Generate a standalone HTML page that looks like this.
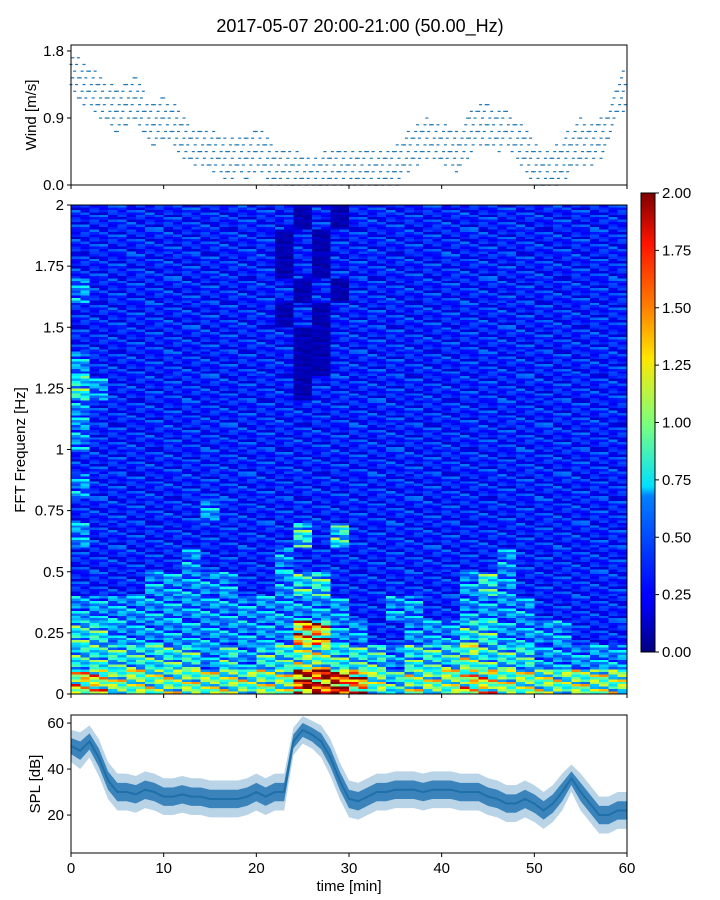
<!DOCTYPE html>
<html><head><meta charset="utf-8"><style>
body{margin:0;background:#fff;}
svg{display:block;font-family:"Liberation Sans","DejaVu Sans",sans-serif;}
</style></head><body>
<svg id="c" width="720" height="900" xmlns="http://www.w3.org/2000/svg">
<rect width="720" height="900" fill="#fff"/>
<text x="360" y="32" font-size="18" text-anchor="middle">2017-05-07 20:00-21:00 (50.00_Hz)</text>
<defs>
<linearGradient id="jet" x1="0" y1="1" x2="0" y2="0">
<stop offset="0" stop-color="#00007f"/><stop offset="0.11" stop-color="#0000ff"/>
<stop offset="0.125" stop-color="#0000ff"/><stop offset="0.34" stop-color="#0080ff"/>
<stop offset="0.36" stop-color="#00e0ff"/><stop offset="0.5" stop-color="#7dff7a"/>
<stop offset="0.64" stop-color="#ffe600"/><stop offset="0.75" stop-color="#ff8000"/>
<stop offset="0.89" stop-color="#ff1300"/><stop offset="1" stop-color="#7f0000"/>
</linearGradient>
</defs>
<g id="wind"></g>
<g id="spec"></g>
<g id="cbar"></g>
<g id="spl"></g>
</svg>
<script>
const windMean=[1.5,1.4,1.3,1.2,1.1,1.0,1.1,1.2,0.9,0.8,0.9,0.8,0.7,0.5,0.5,0.5,0.4,0.35,0.4,0.35,0.5,0.4,0.2,0.15,0.2,0.15,0.1,0.15,0.2,0.15,0.2,0.15,0.2,0.15,0.15,0.2,0.4,0.5,0.6,0.6,0.55,0.5,0.4,0.7,0.8,0.8,0.7,0.8,0.6,0.5,0.3,0.2,0.2,0.3,0.5,0.6,0.5,0.6,0.8,1.2,1.3];
const windSpread=0.3;
const splMean=[50,48,52,45,35,30,30,29,31,30,28,28,29,28,28,27,27,27,27,28,30,28,30,30,52,57,55,52,45,35,27,26,28,30,30,31,31,31,30,31,31,31,30,30,30,28,27,25,25,27,25,22,25,30,36,30,25,20,20,22,22];
const splSpread=[7,8,7,8,8,8,8,8,8,8,8,8,8,8,8,8,8,8,8,8,8,8,8,8,6,6,6,7,8,8,8,8,8,8,8,8,8,8,8,8,8,8,8,8,8,8,8,8,8,8,8,8,8,8,6,8,8,8,8,8,8];
const specRows=[
"111111111111010111111111111111",
"111111111110101111111111111111",
"111111111110101111111111111111",
"211111111111010111111111111111",
"111111111110101111111111111111",
"111111111111001111111111111111",
"211111111111001111111111111111",
"321111111111011111111111111111",
"211111111111111111111111111111",
"211111111111111111111111111111",
"111111111111111111111111111111",
"211111111111111111111111111111",
"111111121111111111111111111111",
"211111111111313111111111111111",
"111111211112111111111112111111",
"111122222112331111111232111111",
"222222222222222112211222211111",
"332222222222662211222332222111",
"333333323233443332333433322222",
"554444444444888643444554444444"];
const tex=[1.0,0.6,1.4,0.8,1.2,0.5,1.5,0.9,1.1,0.7,1.6,0.95,0.75,1.25,0.65,1.05,1.3];
const xTicks=[0,10,20,30,40,50,60];
const windTicks=[0.0,0.9,1.8];
const freqTicks=[0,0.25,0.5,0.75,1,1.25,1.5,1.75,2];
const freqLabels=["0","0.25","0.5","0.75","1","1.25","1.5","1.75","2"];
const cbTicks=[0,0.25,0.5,0.75,1,1.25,1.5,1.75,2];
const splTicks=[20,40,60];

const NS="http://www.w3.org/2000/svg";
function el(p,t,a){const e=document.createElementNS(NS,t);for(const k in a)e.setAttribute(k,a[k]);p.appendChild(e);return e;}
const X0=71,X1=627;
const xs=t=>X0+(X1-X0)*t/60;
function jet(v){v=Math.max(0,Math.min(1,v));
 const r=Math.max(0,Math.min(1,1.5-Math.abs(4*v-3))),g=Math.max(0,Math.min(1,1.5-Math.abs(4*v-2))),b=Math.max(0,Math.min(1,1.5-Math.abs(4*v-1)));
 return `rgb(${r*255|0},${g*255|0},${b*255|0})`;}
function xAxis(g,y0,labels){xTicks.forEach(t=>{const l=el(g,'line',{x1:xs(t),x2:xs(t),y1:y0,y2:y0+4,stroke:'#000'});
 
 if(labels){const tx=el(g,'text',{x:xs(t),y:y0+20,'font-size':15,'text-anchor':'middle'});tx.textContent=t;
 }});}

// wind
(function(){const g=document.getElementById('wind');const T=45,B=185,ymax=1.88;const ys=v=>B-(B-T)*v/ymax;
 const step=0.09;
 for(let m=0;m<60;m++){const a=windMean[m],b=windMean[m+1];
  for(let k=0;k<5;k++){const t=m+k/5;const mv=a+(b-a)*k/5;
   for(let q=Math.ceil((mv-windSpread)/step);q*step<=mv+windSpread;q++){if(q<0)continue;if((q*2+k+m)%3!=0)continue;
    const c=el(g,'rect',{x:xs(t)-1.5,y:ys(q*step)-0.5,width:3,height:1.2,fill:'#1f77b4'});
    }}}
 const f=el(g,'rect',{x:X0,y:T,width:X1-X0,height:B-T,fill:'none',stroke:'#000'});
 windTicks.forEach(v=>{el(g,'line',{x1:X0-4,x2:X0,y1:ys(v),y2:ys(v),stroke:'#000'});const t=el(g,'text',{x:X0-7,y:ys(v)+5,'font-size':15,'text-anchor':'end'});t.textContent=v.toFixed(1);
  });
 xAxis(g,B,false);
 const yl=el(g,'text',{x:36,y:115,'font-size':15,'text-anchor':'middle',transform:'rotate(-90 36 115)'});yl.textContent='Wind [m/s]';
 })();

// spectrogram
(function(){const g=document.getElementById('spec');const T=205,B=694;const ys=f=>B-(B-T)*f/2;
 const nr=specRows.length,nc=specRows[0].length;const sub=10;
 for(let r=0;r<nr;r++){const fTop=2-r*0.1;
  for(let c=0;c<nc;c++){const v=0.1+parseInt(specRows[r][c])*0.205;
   for(let h=0;h<2;h++){
   for(let s=0;s<sub;s++){const m=tex[(s*5+c*3+r*7+h*4)%tex.length];const f1=fTop-s*0.1/sub,f2=fTop-(s+1)*0.1/sub;
    const rc=el(g,'rect',{x:xs(c*2+h),y:ys(f1),width:xs(c*2+h+1)-xs(c*2+h)+0.5,height:ys(f2)-ys(f1)+0.5,fill:jet(v*m/2),'shape-rendering':'crispEdges'});
    }}}}
 el(g,'rect',{x:X0,y:T,width:X1-X0,height:B-T,fill:'none',stroke:'#000'});
 freqTicks.forEach((v,i)=>{el(g,'line',{x1:X0-4,x2:X0,y1:ys(v),y2:ys(v),stroke:'#000'});const t=el(g,'text',{x:X0-7,y:ys(v)+5,'font-size':15,'text-anchor':'end'});t.textContent=freqLabels[i];
  });
 xAxis(g,B,false);
 const yl=el(g,'text',{x:25,y:450,'font-size':15,'text-anchor':'middle',transform:'rotate(-90 25 450)'});yl.textContent='FFT Frequenz [Hz]';
 })();

// colorbar
(function(){const g=document.getElementById('cbar');const T=193,B=652,L=641,R=655;
 el(g,'rect',{x:L,y:T,width:R-L,height:B-T,fill:'url(#jet)',stroke:'#000'});
 cbTicks.forEach(v=>{const y=B-(B-T)*v/2;el(g,'line',{x1:R,x2:R+4,y1:y,y2:y,stroke:'#000'});const t=el(g,'text',{x:R+7,y:y+5,'font-size':15});t.textContent=v.toFixed(2);
  });})();

// SPL
(function(){const g=document.getElementById('spl');const T=715,B=853,ymin=3.5,ymax=63.5;const ys=v=>B-(B-T)*(v-ymin)/(ymax-ymin);
 let up='',lo='';for(let m=0;m<=60;m++){up+=(m?'L':'M')+xs(m)+','+ys(splMean[m]+splSpread[m]);}
 for(let m=60;m>=0;m--){lo+='L'+xs(m)+','+ys(splMean[m]-splSpread[m]);}
 const band=el(g,'path',{d:up+lo+'Z',fill:'#b9d3e7'});
 let inner='',il='';for(let m=0;m<=60;m++){inner+=(m?'L':'M')+xs(m)+','+ys(splMean[m]+splSpread[m]*0.5);}
 for(let m=60;m>=0;m--){il+='L'+xs(m)+','+ys(splMean[m]-splSpread[m]*0.5);}
 const core=el(g,'path',{d:inner+il+'Z',fill:'#3a84bb'});
 let d='';for(let m=0;m<=60;m++){d+=(m?'L':'M')+xs(m)+','+ys(splMean[m]);}
 const ln=el(g,'path',{d:d,fill:'none',stroke:'#1f6fa8','stroke-width':2});
 el(g,'rect',{x:X0,y:T,width:X1-X0,height:B-T,fill:'none',stroke:'#000'});
 splTicks.forEach(v=>{el(g,'line',{x1:X0-4,x2:X0,y1:ys(v),y2:ys(v),stroke:'#000'});const t=el(g,'text',{x:X0-7,y:ys(v)+5,'font-size':15,'text-anchor':'end'});t.textContent=v;
  });
 xAxis(g,B,true);
 const yl=el(g,'text',{x:40,y:784,'font-size':15,'text-anchor':'middle',transform:'rotate(-90 40 784)'});yl.textContent='SPL [dB]';
 
 const xl=el(g,'text',{x:349,y:891,'font-size':15,'text-anchor':'middle'});xl.textContent='time [min]';
 })();
</script>
</body></html>
